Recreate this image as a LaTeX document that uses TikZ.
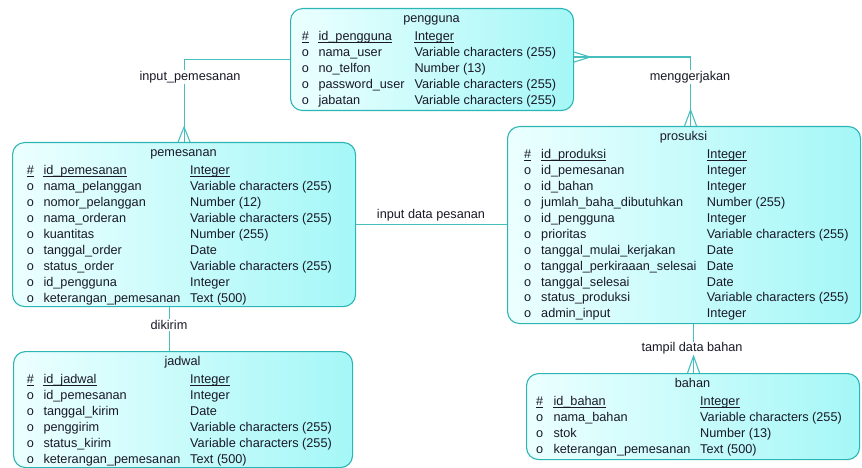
\documentclass[tikz,border=0pt]{standalone}
\usepackage{fontspec}
\setmainfont{Liberation Sans}
\usetikzlibrary{calc}
\definecolor{edgecol}{RGB}{45,180,180}
\definecolor{linecol}{RGB}{70,190,190}
\definecolor{fillL}{RGB}{236,255,255}
\definecolor{fillR}{RGB}{165,247,247}
\definecolor{txtcol}{RGB}{25,25,40}
\newcommand\fsz{\fontsize{12.7}{14}\selectfont}
\tikzset{
  entity/.style={draw=edgecol, line width=1.1pt, rounded corners=12pt,
    left color=fillL, right color=fillR, inner sep=0pt, anchor=north west},
  txt/.style={anchor=base west, inner sep=0pt, font=\fsz, text=txtcol},
  ttl/.style={anchor=base, inner sep=0pt, font=\fsz, text=txtcol},
  conn/.style={draw=linecol, line width=1.1pt},
  uline/.style={draw=txtcol, line width=0.9pt},
  lbl/.style={font=\fsz, text=txtcol, fill=white, inner sep=1.5pt},
  lblnf/.style={font=\fsz, text=txtcol, inner sep=0pt, anchor=base},
}
\newcommand\ul[1]{\draw[uline] ([yshift=-1.9pt]#1.base west) -- ([yshift=-1.9pt]#1.base east);}
% #1 prefix, #2 top, #3 xhash, #4 xname, #5 xtype, #6 pk name, #7 list
\newcommand\entattrs[7]{%
  \node[txt] (#1-h0) at (#3, #2+32.8) {\#};
  \node[txt] (#1-n0) at (#4, #2+32.8) {#6};
  \node[txt] (#1-t0) at (#5, #2+32.8) {Integer};
  \ul{#1-h0}\ul{#1-n0}\ul{#1-t0}
  \foreach \n/\t [count=\i] in {#7} {
    \node[txt] (#1-h\i) at (#3, #2+32.8+15.9*\i) {o};
    \node[txt] (#1-n\i) at (#4, #2+32.8+15.9*\i) {\n};
    \node[txt] (#1-t\i) at (#5, #2+32.8+15.9*\i) {\t};
  }%
}
\newcommand\crowfoot[3]{% #1 point on box, #2 apex offset, #3 spread vector
  \draw[conn] ($(#1)+(#3)$) -- ($(#1)+(#2)$) -- ($(#1)-(#3)$);
}
\begin{document}
\begin{tikzpicture}[x=1pt,y=-1pt]
\useasboundingbox (0,0) rectangle (862,468);

% entities
\node[entity, minimum width=283pt, minimum height=102pt] (pengguna) at (290,8) {};
\node[entity, minimum width=343pt, minimum height=164pt] (pemesanan) at (12,142) {};
\node[entity, minimum width=353pt, minimum height=197pt] (prosuksi) at (507,126) {};
\node[entity, minimum width=339pt, minimum height=116pt] (jadwal) at (13,351) {};
\node[entity, minimum width=333pt, minimum height=86pt] (bahan) at (526,373) {};

% pengguna
\node[ttl] (pengguna-title) at (431.5,22.5) {pengguna};
\entattrs{pg}{8}{301.7}{318.3}{414.3}{id\_pengguna}{nama\_user/Variable characters (255),no\_telfon/Number (13),password\_user/Variable characters (255),jabatan/Variable characters (255)}

% pemesanan
\node[ttl] (pemesanan-title) at (183.5,156.5) {pemesanan};
\entattrs{pm}{142}{26.7}{43.3}{190}{id\_pemesanan}{nama\_pelanggan/Variable characters (255),nomor\_pelanggan/Number (12),nama\_orderan/Variable characters (255),kuantitas/Number (255),tanggal\_order/Date,status\_order/Variable characters (255),id\_pengguna/Integer,keterangan\_pemesanan/Text (500)}

% prosuksi
\node[ttl] (prosuksi-title) at (683.5,140.5) {prosuksi};
\entattrs{pr}{126}{524}{541}{706.7}{id\_produksi}{id\_pemesanan/Integer,id\_bahan/Integer,jumlah\_baha\_dibutuhkan/Number (255),id\_pengguna/Integer,prioritas/Variable characters (255),tanggal\_mulai\_kerjakan/Date,tanggal\_perkiraaan\_selesai/Date,tanggal\_selesai/Date,status\_produksi/Variable characters (255),admin\_input/Integer}

% jadwal
\node[ttl] (jadwal-title) at (182.5,365.5) {jadwal};
\entattrs{jd}{351}{26.7}{43.3}{190}{id\_jadwal}{id\_pemesanan/Integer,tanggal\_kirim/Date,penggirim/Variable characters (255),status\_kirim/Variable characters (255),keterangan\_pemesanan/Text (500)}

% bahan
\node[ttl] (bahan-title) at (692.5,387.5) {bahan};
\entattrs{bh}{373}{536}{553.3}{700}{id\_bahan}{nama\_bahan/Variable characters (255),stok/Number (13),keterangan\_pemesanan/Text (500)}

% connector anchors
\coordinate (ipA) at (pengguna.west);
\coordinate (ipB) at (pemesanan.north);
\coordinate (mgA) at ([yshift=2.5pt]pengguna.east);
\coordinate (mgB) at ([xshift=6.5pt]prosuksi.north);
\coordinate (dkA) at ([xshift=-14.5pt]pemesanan.south);
\coordinate (tbA) at ([xshift=9.5pt]prosuksi.south);

% input_pemesanan
\draw[conn] (ipA) -| (ipB);
\crowfoot{ipB}{0,-15}{6,0}
% menggerjakan
\draw[conn] (mgA) -| (mgB);
\crowfoot{mgA}{16,0}{0,5}
\crowfoot{mgB}{0,-16}{6,0}
% input data pesanan
\draw[conn] (pemesanan.east) -- (pemesanan.east -| prosuksi.west);
% dikirim
\draw[conn] (dkA) -- (dkA |- jadwal.north);
% tampil data bahan
\draw[conn] (tbA) -- (tbA |- bahan.north);
\crowfoot{tbA |- bahan.north}{0,-17}{6,0}

% labels
\node[lbl] (l-ip) at (190,77) {input\_pemesanan};
\node[lbl] (l-mg) at (690,77) {menggerjakan};
\node[lblnf] (l-idp) at (431,218.3) {input data pesanan};
\node[lbl] (l-dk) at (169,325) {dikirim};
\node[lbl, inner ysep=0.5pt] (l-tb) at (692,348.5) {tampil data bahan};
\end{tikzpicture}
\end{document}
